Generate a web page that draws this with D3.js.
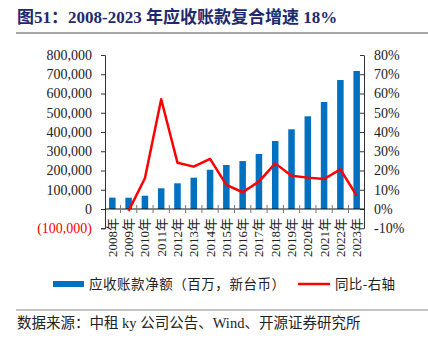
<!DOCTYPE html>
<html>
<head>
<meta charset="utf-8">
<script src="https://cdn.jsdelivr.net/npm/d3@7"></script>
<style>
  body { margin: 0; background: #fff; }
  svg { display: block; }
</style>
</head>
<body>
<div id="main"></div>
<script>
// Datos
var years = ["2008", "2009", "2010", "2011", "2012", "2013", "2014", "2015",
             "2016", "2017", "2018", "2019", "2020", "2021", "2022", "2023"];
var receivables = [59000, 58500, 69000, 107500, 133500, 162700, 204000, 228600,
                   249000, 285700, 353000, 414000, 481600, 556000, 670000, 717000];
var yoy = [null, -1, 16, 57, 24, 22, 26, 12.5, 8.7, 14.2, 23.7, 17.3, 16.3, 15.6, 20.6, 6.9];
var leftTicks = [-100000, 0, 100000, 200000, 300000, 400000, 500000, 600000, 700000, 800000];
var rightTicks = [-10, 0, 10, 20, 30, 40, 50, 60, 70, 80];

var titleText = "图51：2008-2023 年应收账款复合增速 18%";
var legendBar = "应收账款净额（百万，新台币）";
var legendLine = "同比-右轴";
var sourceText = "数据来源：中租 ky 公司公告、Wind、开源证券研究所";

var totalWidth = 428;
var totalHeight = 344;
var plotLeft = 105;
var plotRight = 364;
var plotTop = 55;
var plotBottom = 228.25;
var serif = "'Liberation Serif', 'Noto Sans CJK SC', serif";
var cjk = "'Noto Sans CJK SC', 'Liberation Serif', sans-serif";

var svg = d3.select("#main").append("svg")
	.attr("width", totalWidth)
	.attr("height", totalHeight)
	.attr("style", "background-color: #fff;");

// Título
svg.append("text")
	.attr("x", 17)
	.attr("y", 23)
	.attr("fill", "#1e2a6e")
	.attr("font-family", serif)
	.attr("font-weight", "bold")
	.attr("font-size", 17)
	.text(titleText);
svg.append("line")
	.attr("x1", 16).attr("x2", totalWidth)
	.attr("y1", 33).attr("y2", 33)
	.attr("stroke", "#888").attr("stroke-width", 1.5);

// Escalas
var x = d3.scaleBand().domain(years).range([plotLeft, plotRight]).paddingInner(0.6).paddingOuter(0.25);
var yLeft = d3.scaleLinear().domain([-100000, 800000]).range([plotBottom, plotTop]);
var yRight = d3.scaleLinear().domain([-10, 80]).range([plotBottom, plotTop]);

// Barras
svg.append("g").selectAll("rect")
	.data(years)
	.enter().append("rect")
	.attr("x", function(d) { return x(d); })
	.attr("width", x.bandwidth())
	.attr("y", function(d, i) { return yLeft(receivables[i]); })
	.attr("height", function(d, i) { return yLeft(0) - yLeft(receivables[i]); })
	.attr("fill", "#0070c0");

// Eje izquierdo
var axisLeft = svg.append("g")
	.attr("transform", "translate(" + plotLeft + ",0)")
	.call(d3.axisLeft(yLeft).tickValues(leftTicks).tickSize(4).tickPadding(9)
		.tickFormat(function(d) {
			if (d < 0) return "(" + d3.format(",")(-d) + ")";
			return d3.format(",")(d);
		}));
axisLeft.select(".domain").attr("stroke", "#333");
axisLeft.selectAll(".tick line").attr("stroke", "#333");
axisLeft.selectAll(".tick text")
	.attr("font-family", serif)
	.attr("font-size", 14)
	.attr("fill", function(d) { return d < 0 ? "#ff0000" : "#222"; });

// Eje derecho
var axisRight = svg.append("g")
	.attr("transform", "translate(" + plotRight + ",0)")
	.call(d3.axisRight(yRight).tickValues(rightTicks).tickSizeInner(-4).tickSizeOuter(0).tickPadding(10)
		.tickFormat(function(d) { return d + "%"; }));
axisRight.select(".domain").attr("stroke", "#333");
axisRight.selectAll(".tick line").attr("stroke", "#333");
axisRight.selectAll(".tick text")
	.attr("font-family", serif)
	.attr("font-size", 14)
	.attr("fill", "#222");

// Eje X en el cero
var zeroY = yLeft(0);
svg.append("line")
	.attr("x1", plotLeft).attr("x2", plotRight)
	.attr("y1", zeroY).attr("y2", zeroY)
	.attr("stroke", "#111").attr("stroke-width", 1);
var gap = (x.step() - x.bandwidth()) / 2;
svg.append("g").selectAll("line")
	.data(years.slice(0, -1))
	.enter().append("line")
	.attr("x1", function(d) { return x(d) + x.bandwidth() + gap; })
	.attr("x2", function(d) { return x(d) + x.bandwidth() + gap; })
	.attr("y1", zeroY - 4)
	.attr("y2", zeroY + 4)
	.attr("stroke", "#777");

svg.append("g").selectAll("text")
	.data(years)
	.enter().append("text")
	.attr("transform", function(d) {
		return "translate(" + (x(d) + x.bandwidth() / 2) + "," + (zeroY + 9) + ") rotate(-90)";
	})
	.attr("text-anchor", "end")
	.attr("dy", "0.35em")
	.attr("font-family", serif)
	.attr("font-size", 13)
	.attr("fill", "#222")
	.text(function(d) { return d + "年"; });

// Línea de crecimiento
var line = d3.line()
	.defined(function(d) { return d != null; })
	.x(function(d, i) { return x(years[i]) + x.bandwidth() / 2; })
	.y(function(d) { return yRight(d); });
svg.append("path")
	.datum(yoy)
	.attr("d", line)
	.attr("fill", "none")
	.attr("stroke", "#ff0000")
	.attr("stroke-width", 2.5)
	.attr("stroke-linejoin", "round");

// Leyenda
svg.append("rect")
	.attr("x", 53).attr("y", 281)
	.attr("width", 31).attr("height", 6)
	.attr("fill", "#0070c0");
svg.append("text")
	.attr("x", 89).attr("y", 284).attr("dy", "0.35em")
	.attr("font-family", cjk).attr("font-size", 13.5).attr("fill", "#222")
	.attr("textLength", 196).attr("lengthAdjust", "spacing")
	.text(legendBar);
svg.append("line")
	.attr("x1", 298).attr("x2", 330)
	.attr("y1", 284).attr("y2", 284)
	.attr("stroke", "#ff0000").attr("stroke-width", 2.5);
svg.append("text")
	.attr("x", 335).attr("y", 284).attr("dy", "0.35em")
	.attr("font-family", cjk).attr("font-size", 13.5).attr("fill", "#222")
	.attr("textLength", 60).attr("lengthAdjust", "spacing")
	.text(legendLine);

// Fuente
svg.append("line")
	.attr("x1", 16).attr("x2", totalWidth)
	.attr("y1", 310).attr("y2", 310)
	.attr("stroke", "#888").attr("stroke-width", 1.2);
svg.append("text")
	.attr("x", 17).attr("y", 323).attr("dy", "0.35em")
	.attr("font-family", serif).attr("font-size", 14.5).attr("fill", "#222")
	.text(sourceText);
</script>
</body>
</html>
